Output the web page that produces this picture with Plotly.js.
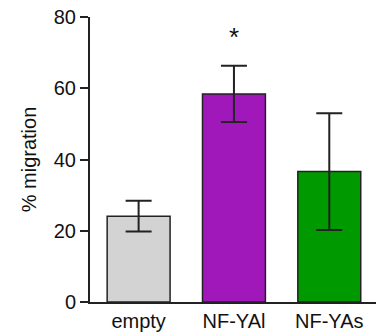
<!DOCTYPE html>
<html>
<head>
<meta charset="utf-8">
<script src="https://cdn.plot.ly/plotly-3.0.1.min.js"></script>
<style>html,body{margin:0;padding:0;background:#fff;}#chart{width:381px;height:333px;}</style>
</head>
<body>
<div id="chart"></div>
<script>
var categories = ["empty", "NF-YAl", "NF-YAs"];
var values = [24.1, 58.4, 36.6];
var errors = [4.3, 7.9, 16.4];
var barColors = ["#d3d3d3", "#a018b9", "#009a00"];
var yTicks = [0, 20, 40, 60, 80];

var trace = {
  type: "bar",
  x: categories,
  y: values,
  marker: {color: barColors, line: {color: "#222", width: 1.5}},
  error_y: {type: "data", array: errors, visible: true, color: "#222", thickness: 2, width: 13},
  width: 0.66,
  hoverinfo: "none"
};

var layout = {
  width: 381, height: 333,
  margin: {l: 90, r: 5, t: 17, b: 31},
  paper_bgcolor: "#fff", plot_bgcolor: "#fff",
  showlegend: false,
  font: {family: "Liberation Sans, Arial, sans-serif", size: 20, color: "#111"},
  xaxis: {
    type: "category",
    range: [-0.51, 2.49],
    showline: true, linecolor: "#222", linewidth: 2,
    ticks: "", showgrid: false, zeroline: false,
    tickfont: {size: 20}
  },
  yaxis: {
    range: [0, 80],
    tickvals: yTicks,
    showline: true, linecolor: "#222", linewidth: 2,
    ticks: "outside", ticklen: 8, tickwidth: 2, tickcolor: "#222",
    showgrid: false, zeroline: false,
    tickfont: {size: 20},
    title: {text: "% migration", font: {size: 20}, standoff: 12}
  },
  annotations: [{
    x: "NF-YAl", y: 74.5, xref: "x", yref: "y",
    text: "*", showarrow: false, font: {size: 26, color: "#111"}
  }]
};

Plotly.newPlot("chart", [trace], layout, {displayModeBar: false, staticPlot: true});
</script>
</body>
</html>
